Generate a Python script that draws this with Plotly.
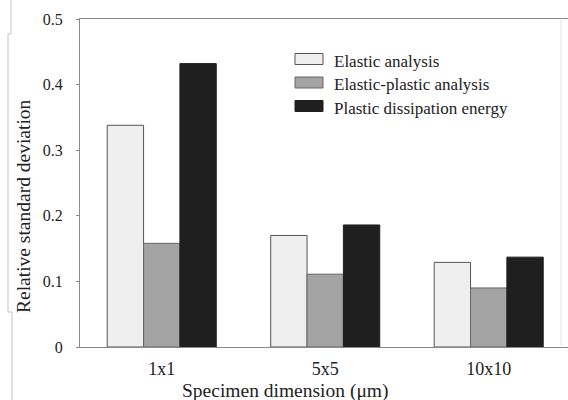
import plotly.graph_objects as go

categories = ["1x1", "5x5", "10x10"]
elastic = [0.338, 0.170, 0.129]
elastic_plastic = [0.158, 0.111, 0.090]
plastic_energy = [0.432, 0.186, 0.137]
series_names = ["Elastic analysis", "Elastic-plastic analysis", "Plastic dissipation energy"]
y_ticks = [0, 0.1, 0.2, 0.3, 0.4, 0.5]
y_ticklabels = ["0", "0.1", "0.2", "0.3", "0.4", "0.5"]

W, H = 568, 400
L, R, T, B = 80, 0, 19, 53
PW, PH = W - L - R, H - T - B

def px(x):
    return (x - L) / PW

def py(y):
    return (H - B - y) / PH

fills = ["#efefef", "#a4a4a4", "#1f1f1f"]
lines = ["#555555", "#666666", "#1f1f1f"]
FONT = "Liberation Serif"

fig = go.Figure()
for name, vals, fc, lc in zip(series_names, [elastic, elastic_plastic, plastic_energy], fills, lines):
    fig.add_trace(go.Bar(x=categories, y=vals, name=name, marker=dict(color=fc, line=dict(color=lc, width=1)),
                         showlegend=False))

fig.update_layout(
    width=W, height=H,
    margin=dict(l=L, r=R, t=T, b=B),
    paper_bgcolor="white", plot_bgcolor="white",
    barmode="group", bargap=0.333, bargroupgap=0,
    font=dict(family=FONT, color="#222222"),
    xaxis=dict(type="category", range=[-0.5, 2.485], showline=True, linecolor="#8a8a8a", linewidth=1,
               mirror=True, ticks="", tickfont=dict(size=18, family=FONT, color="#222"),
               showgrid=False, zeroline=False, ticklabelstandoff=5),
    yaxis=dict(range=[0, 0.5], tickvals=y_ticks, ticktext=y_ticklabels, showline=True, linecolor="#8a8a8a",
               linewidth=1, mirror=False, ticks="outside", ticklen=3, tickcolor="#8a8a8a",
               tickfont=dict(size=16, family=FONT, color="#222"), showgrid=False, zeroline=False,
               ticklabelstandoff=10),
)

# axis titles
fig.add_annotation(text="Specimen dimension (μm)", xref="paper", yref="paper", x=px(285), y=py(390.5),
                   showarrow=False, font=dict(size=19.5, family=FONT, color="#222"), xanchor="center", yanchor="middle")
fig.add_annotation(text="Relative standard deviation", xref="paper", yref="paper", x=px(24), y=py(206),
                   showarrow=False, textangle=-90, font=dict(size=19.5, family=FONT, color="#222"),
                   xanchor="center", yanchor="middle")

# legend (manual)
leg_y = [59, 82.5, 106]
text_y = [61, 84.5, 108]
for name, fc, lc, yc, ty in zip(series_names, fills, lines, leg_y, text_y):
    fig.add_shape(type="rect", xref="paper", yref="paper", x0=px(295), x1=px(323), y0=py(yc + 5.5), y1=py(yc - 5.5),
                  fillcolor=fc, line=dict(color=lc, width=1))
    fig.add_annotation(text=name, xref="paper", yref="paper", x=px(332), y=py(ty), showarrow=False,
                       xanchor="left", yanchor="middle", font=dict(size=17, family=FONT, color="#222"))

# faint right frame line and scan-edge artifact lines on the left
fig.add_shape(type="line", xref="paper", yref="paper", x0=px(561), x1=px(561), y0=py(20), y1=py(346),
              line=dict(color="#e2e2e2", width=1))
for x0, ya, yb in [(11, 0, 34), (8, 34, 312), (12, 312, 400)]:
    fig.add_shape(type="line", xref="paper", yref="paper", x0=px(x0), x1=px(x0), y0=py(ya), y1=py(yb),
                  line=dict(color="#c4c4c4", width=1))
for x0, x1, y in [(8, 11, 34), (8, 12, 312)]:
    fig.add_shape(type="line", xref="paper", yref="paper", x0=px(x0), x1=px(x1), y0=py(y), y1=py(y),
                  line=dict(color="#c4c4c4", width=1))

fig.write_html("out.html")
